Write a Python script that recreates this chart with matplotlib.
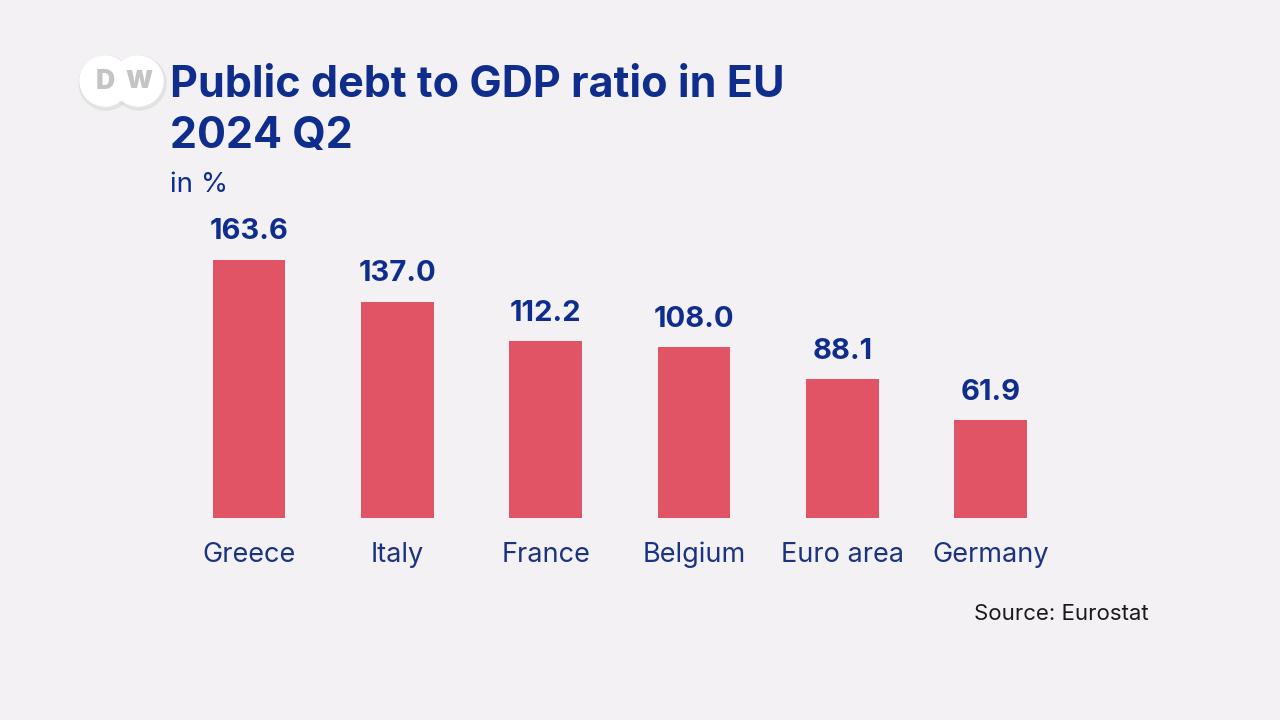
import matplotlib.pyplot as plt
from matplotlib.patches import Circle

# data
countries = ['Greece', 'Italy', 'France', 'Belgium', 'Euro area', 'Germany']
debt = [163.6, 137.0, 112.2, 108.0, 88.1, 61.9]

bg = '#f3f1f3'
navy = '#0f2d8c'
bar_col = '#e05466'

plt.rcParams['font.family'] = ['Inter', 'DejaVu Sans']

fig = plt.figure(figsize=(12.8, 7.2), dpi=100, facecolor=bg)

# axes placed so the bars sit where the reference has them
W, H = 1280, 720
step = 148.3
left_px = 249 - step / 2
ax = fig.add_axes([left_px / W, 202 / H, 6 * step / W, 180 * 1.58 / H])
ax.set_facecolor(bg)
x = range(len(countries))
ax.bar(x, debt, width=0.49, color=bar_col)
for i, v in zip(x, debt):
    ax.text(i, v + 9, f'{v:.1f}', ha='center', va='bottom', fontsize=21,
            fontweight='bold', color=navy)
ax.set_xlim(-0.5, 5.5)
ax.set_ylim(0, 180)
ax.set_xticks(list(x))
ax.set_xticklabels(countries, fontsize=19.5, color='#1c3380')
ax.tick_params(axis='x', length=0, pad=17)
ax.set_yticks([])
for s in ax.spines.values():
    s.set_visible(False)

# titles
fig.text(170 / W, 1 - 97 / H, 'Public debt to GDP ratio in EU', fontsize=31,
         fontweight='bold', color=navy, va='baseline')
fig.text(170 / W, 1 - 148 / H, '2024 Q2', fontsize=31,
         fontweight='bold', color=navy, va='baseline')
fig.text(170 / W, 1 - 192 / H, 'in %', fontsize=20, color=navy, va='baseline')
fig.text(1149 / W, 1 - 620 / H, 'Source: Eurostat', fontsize=16,
         color='#1a1a1a', ha='right', va='baseline')

# DW logo
logo = fig.add_axes([0, 0, 1, 1], facecolor='none')
logo.set_xlim(0, W)
logo.set_ylim(H, 0)
logo.axis('off')
for cx in (105, 138):
    logo.add_patch(Circle((cx + 1, 83), 27, color='#d8d8d8', alpha=0.5))
for cx in (138, 105):
    logo.add_patch(Circle((cx, 81), 25, color='white'))
logo.text(105, 82, 'D', fontsize=19, fontweight='black', color='#c4c4c4',
          ha='center', va='center')
logo.text(139, 82, 'W', fontsize=18, fontweight='black', color='#c4c4c4',
          ha='center', va='center')

fig.savefig('out.png', dpi=100, facecolor=bg)
